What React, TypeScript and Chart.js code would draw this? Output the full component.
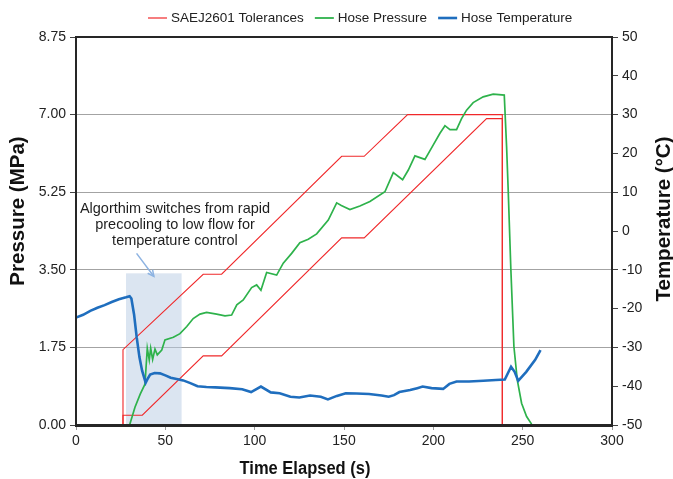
import React, { useEffect, useRef } from "react";
import { Chart, registerables } from "chart.js";

Chart.register(...registerables);

// ---------------- data ----------------
const xTicksMax = 300;
const pressureMax = 8.75;

const tolUpperX = [26.3, 26.3, 71.2, 81.5, 148.7, 161.3, 185.6, 238.6, 238.6];
const tolUpperY = [0, 1.7, 3.4, 3.4, 6.06, 6.06, 7.0, 7.0, 0];

const tolLowerX = [26.3, 26.3, 37.1, 71.2, 81.5, 148.7, 161.3, 229.8, 238.6, 238.6];
const tolLowerY = [0, 0.22, 0.22, 1.56, 1.56, 4.22, 4.22, 6.91, 6.91, 0];

const pressureT = [30, 33, 36, 38.6, 39.9, 41, 41.8, 42.9, 44.2, 45.5, 48, 49.8, 54.5, 58.2, 62, 65.6, 69.4, 73.1, 78.7, 83.4, 87.1, 90, 93.6, 98.3, 101.1, 103.5, 106.7, 112.3, 116, 120.7, 125.3, 130, 134.7, 141.2, 145.9, 148.5, 153.3, 158.9, 164.5, 172.9, 177.6, 182.8, 186, 189.7, 195.3, 199.9, 203.7, 206.5, 209.3, 213, 215.8, 218.6, 222.3, 227.9, 233.5, 239.7, 241, 241.9, 243.4, 245.1, 247, 249.4, 252.2, 255];
const pressureV = [0, 0.4, 0.7, 0.92, 1.73, 1.47, 1.73, 1.48, 1.71, 1.58, 1.69, 1.92, 1.98, 2.06, 2.22, 2.4, 2.5, 2.54, 2.5, 2.46, 2.48, 2.71, 2.82, 3.1, 3.16, 3.04, 3.44, 3.38, 3.65, 3.87, 4.11, 4.19, 4.31, 4.62, 5.01, 4.95, 4.86, 4.94, 5.04, 5.26, 5.69, 5.53, 5.75, 6.07, 5.99, 6.31, 6.58, 6.75, 6.66, 6.66, 6.91, 7.1, 7.27, 7.4, 7.46, 7.44, 6.28, 5.3, 3.5, 1.77, 1.01, 0.49, 0.19, 0.02];

const tempT = [0, 4, 8, 12, 16, 20, 24, 28, 30, 31, 32.5, 34, 35.5, 37, 39, 40, 41.5, 44, 47, 50, 53, 57, 60, 64, 68, 73, 78, 86, 93, 98, 103.5, 109, 114, 120, 125, 131, 137, 141, 146, 151, 157, 164, 171, 175, 178, 181, 187, 191, 194, 199, 205.5, 209, 213, 220, 228, 235, 240, 243.5, 245.5, 247.5, 252, 257, 260];
const tempV = [-22.3, -21.6, -20.6, -19.8, -19.1, -18.3, -17.6, -17.1, -16.8, -17.4, -21.5, -27.5, -32.5, -36, -39.1, -38.2, -37.0, -36.6, -36.7, -37.2, -37.8, -38.2, -38.5, -39.2, -40, -40.2, -40.3, -40.5, -40.8, -41.5, -40.1, -41.6, -41.8, -42.7, -42.9, -42.4, -42.7, -43.4, -42.5, -41.8, -41.9, -42.0, -42.4, -42.7, -42.3, -41.5, -41.0, -40.5, -40.1, -40.5, -40.7, -39.4, -38.8, -38.8, -38.6, -38.4, -38.3, -35.0, -36.3, -38.6, -36.3, -33.2, -30.7];

const legendLabels = ["SAEJ2601 Tolerances", "Hose Pressure", "Hose Temperature"];
const seriesColors = ["#f0282a", "#2eb24b", "#1f6ebe"];

const boxRange = [28, 59.1, 0, 3.42];
const noteLines = ["Algorthim switches from rapid", "precooling to low flow for", "temperature control"];
const notePos = [55.4, 4.87];
const arrowFrom = [33.9, 3.87];
const arrowTo = [43.6, 3.35];

const toPts = (xs: number[], ys: number[]) => xs.map((x, i) => ({ x, y: ys[i] }));

const FONT = "'Liberation Sans', Arial, sans-serif";

const decorPlugin = {
  id: "decor",
  beforeDatasetsDraw(chart: any) {
    const { ctx, scales } = chart;
    const x = scales.x, y = scales.y;
    const x0 = x.getPixelForValue(boxRange[0]);
    const x1 = x.getPixelForValue(boxRange[1]);
    const y0 = y.getPixelForValue(boxRange[2]);
    const y1 = y.getPixelForValue(boxRange[3]);
    ctx.save();
    ctx.fillStyle = "rgba(184,204,228,0.5)";
    ctx.fillRect(x0, y1, x1 - x0, y0 - y1);
    ctx.restore();
  },
  afterDatasetsDraw(chart: any) {
    const { ctx, scales, chartArea: a } = chart;
    const x = scales.x, y = scales.y;
    ctx.save();
    // frame
    ctx.strokeStyle = "#262626";
    ctx.lineWidth = 2;
    ctx.beginPath();
    ctx.moveTo(a.left, a.bottom);
    ctx.lineTo(a.left, a.top);
    ctx.lineTo(a.right, a.top);
    ctx.lineTo(a.right, a.bottom);
    ctx.stroke();
    ctx.lineWidth = 3;
    ctx.beginPath();
    ctx.moveTo(a.left - 1, a.bottom + 0.5);
    ctx.lineTo(a.right + 1, a.bottom + 0.5);
    ctx.stroke();

    // annotation text
    ctx.fillStyle = "#1e1e1e";
    ctx.font = "14.5px " + FONT;
    ctx.textAlign = "center";
    ctx.textBaseline = "middle";
    const cx = x.getPixelForValue(notePos[0]);
    const cy = y.getPixelForValue(notePos[1]);
    noteLines.forEach((t, i) => ctx.fillText(t, cx, cy + i * 16.2));

    // arrow
    const ax0 = x.getPixelForValue(arrowFrom[0]);
    const ay0 = y.getPixelForValue(arrowFrom[1]);
    const ax1 = x.getPixelForValue(arrowTo[0]);
    const ay1 = y.getPixelForValue(arrowTo[1]);
    const ang = Math.atan2(ay1 - ay0, ax1 - ax0);
    ctx.strokeStyle = "#8db3e2";
    ctx.lineWidth = 1.5;
    ctx.beginPath();
    ctx.moveTo(ax0, ay0);
    ctx.lineTo(ax1, ay1);
    ctx.stroke();
    ctx.beginPath();
    ctx.moveTo(ax1 - 7 * Math.cos(ang - 0.45), ay1 - 7 * Math.sin(ang - 0.45));
    ctx.lineTo(ax1, ay1);
    ctx.lineTo(ax1 - 7 * Math.cos(ang + 0.45), ay1 - 7 * Math.sin(ang + 0.45));
    ctx.stroke();
    ctx.restore();
  },
  afterDraw(chart: any) {
    const { ctx, chartArea: a } = chart;
    ctx.save();
    // legend
    ctx.font = "13.5px " + FONT;
    ctx.textBaseline = "middle";
    ctx.textAlign = "left";
    let lx = 148;
    const ly = 18;
    legendLabels.forEach((lab, i) => {
      ctx.strokeStyle = seriesColors[i];
      ctx.lineWidth = i === 0 ? 1.2 : i === 1 ? 1.8 : 2.6;
      ctx.beginPath();
      ctx.moveTo(lx, ly);
      ctx.lineTo(lx + 19, ly);
      ctx.stroke();
      ctx.fillStyle = "#222";
      ctx.fillText(lab, lx + 23, ly);
      lx += 23 + ctx.measureText(lab).width + 11;
    });

    // axis titles
    ctx.fillStyle = "#111";
    ctx.textAlign = "center";
    ctx.font = "bold 20.5px " + FONT;
    ctx.save();
    ctx.translate(18, 211);
    ctx.rotate(-Math.PI / 2);
    ctx.fillText("Pressure (MPa)", 0, 0);
    ctx.restore();
    ctx.save();
    ctx.translate(664, 219);
    ctx.rotate(-Math.PI / 2);
    ctx.fillText("Temperature (°C)", 0, 0);
    ctx.restore();
    ctx.font = "bold 18px " + FONT;
    const t = "Time Elapsed (s)";
    const w = ctx.measureText(t).width;
    ctx.save();
    ctx.translate(305, a.bottom + 44);
    ctx.scale(131 / w, 1);
    ctx.fillText(t, 0, 0);
    ctx.restore();
    ctx.restore();
  },
};

export default function App() {
  const ref = useRef<HTMLCanvasElement>(null);
  useEffect(() => {
    if (!ref.current) return;
    const tickFont = { family: FONT, size: 14 };
    const chart = new Chart(ref.current, {
      type: "line",
      data: {
        datasets: [
          { label: legendLabels[0], data: toPts(tolUpperX, tolUpperY), borderColor: seriesColors[0], borderWidth: 1.1, pointRadius: 0, yAxisID: "y", order: 3 },
          { label: legendLabels[0] + " (lower)", data: toPts(tolLowerX, tolLowerY), borderColor: seriesColors[0], borderWidth: 1.1, pointRadius: 0, yAxisID: "y", order: 3 },
          { label: legendLabels[1], data: toPts(pressureT, pressureV), borderColor: seriesColors[1], borderWidth: 1.7, pointRadius: 0, yAxisID: "y", order: 2 },
          { label: legendLabels[2], data: toPts(tempT, tempV), borderColor: seriesColors[2], borderWidth: 2.6, pointRadius: 0, yAxisID: "y2", order: 1 },
        ],
      },
      options: {
        responsive: false,
        animation: false,
        events: [],
        layout: { padding: { top: 37, left: 0, right: 0, bottom: 0 } },
        plugins: { legend: { display: false }, tooltip: { enabled: false } },
        scales: {
          x: {
            type: "linear",
            min: 0,
            max: xTicksMax,
            ticks: { stepSize: 50, font: tickFont, color: "#222", padding: 3, maxRotation: 0 },
            grid: { drawOnChartArea: false, tickLength: 5, tickColor: "#9a9a9a" },
            border: { display: false },
            afterFit: (s: any) => { s.height = 54; },
          },
          y: {
            position: "left",
            min: 0,
            max: pressureMax,
            ticks: { stepSize: 1.75, font: tickFont, color: "#222", padding: 4, callback: (v: any) => Number(v).toFixed(2) },
            grid: { color: "#a3a3a3", lineWidth: 1, tickLength: 6, tickColor: "#444" },
            border: { display: false },
            afterFit: (s: any) => { s.width = 76; },
          },
          y2: {
            position: "right",
            min: -50,
            max: 50,
            ticks: { stepSize: 10, font: tickFont, color: "#222", padding: 4 },
            grid: { drawOnChartArea: false, tickLength: 6, tickColor: "#444" },
            border: { display: false },
            afterFit: (s: any) => { s.width = 61; },
          },
        },
      },
      plugins: [decorPlugin],
    } as any);
    return () => chart.destroy();
  }, []);
  return (
    <div style={{ position: "fixed", left: 0, top: 0, width: 673, height: 479, background: "#fff" }}>
      <canvas ref={ref} width={673} height={479} />
    </div>
  );
}
